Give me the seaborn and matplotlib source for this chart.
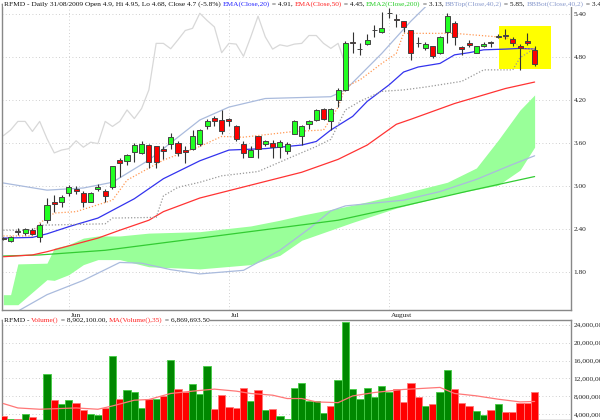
import numpy as np
import pandas as pd
import matplotlib
matplotlib.use('Agg')
import matplotlib.pyplot as plt
import seaborn as sns
from matplotlib.transforms import offset_copy, blended_transform_factory

# trading days shown (18 May - 31 Aug 2009)
dates = pd.bdate_range('2009-05-18', '2009-08-31')
dates = dates.drop(pd.to_datetime(['2009-05-25', '2009-07-03']))

opens = [2.27, 2.235, 2.37, 2.34, 2.38, 2.29, 2.52, 2.77, 2.77, 2.90,
         2.95, 2.90, 2.78, 2.96, 2.93, 2.99, 3.36, 3.35, 3.47, 3.46,
         3.57, 3.55, 3.51, 3.58, 3.60, 3.50, 3.51, 3.58, 3.84, 3.95,
         3.92, 3.93, 3.84, 3.58, 3.40, 3.70, 3.59, 3.60, 3.54, 3.48,
         3.73, 3.70, 3.87, 3.92, 4.08, 3.90, 4.20, 4.34, 5.01, 4.915,
         4.98, 5.17, 5.15, 5.41, 5.33, 5.30, 5.18, 4.99, 4.92, 4.95,
         4.86, 5.15, 5.28, 4.94, 5.00, 4.86, 4.95, 5.01, 5.08, 5.11,
         5.05, 4.96, 5.02, 4.90]
highs = [2.29, 2.30, 2.41, 2.41, 2.41, 2.48, 2.83, 2.87, 2.87, 3.01,
         3.00, 2.93, 2.91, 3.02, 2.96, 3.28, 3.39, 3.45, 3.60, 3.62,
         3.59, 3.56, 3.55, 3.74, 3.63, 3.55, 3.78, 3.80, 3.93, 3.98,
         4.06, 3.95, 3.85, 3.63, 3.56, 3.70, 3.64, 3.64, 3.64, 3.61,
         3.92, 3.85, 3.92, 4.08, 4.09, 4.09, 4.36, 5.02, 5.15, 4.99,
         5.12, 5.25, 5.43, 5.48, 5.40, 5.30, 5.18, 5.08, 5.01, 4.95,
         5.09, 5.41, 5.30, 4.95, 5.04, 4.95, 5.01, 5.03, 5.12, 5.19,
         5.08, 4.98, 5.14, 4.95]
lows = [2.24, 2.22, 2.31, 2.32, 2.31, 2.22, 2.48, 2.64, 2.70, 2.86,
        2.88, 2.71, 2.77, 2.93, 2.78, 2.96, 3.13, 3.29, 3.34, 3.44,
        3.25, 3.25, 3.38, 3.51, 3.42, 3.32, 3.50, 3.55, 3.80, 3.84,
        3.73, 3.84, 3.62, 3.39, 3.40, 3.39, 3.55, 3.39, 3.39, 3.45,
        3.72, 3.57, 3.80, 3.90, 3.92, 3.78, 4.10, 4.32, 4.85, 4.83,
        4.97, 5.08, 5.13, 5.34, 5.22, 5.15, 4.76, 4.94, 4.90, 4.79,
        4.84, 4.99, 4.97, 4.83, 4.94, 4.86, 4.94, 4.94, 5.07, 5.05,
        4.96, 4.62, 4.97, 4.68]
closes = [2.26, 2.29, 2.35, 2.40, 2.33, 2.46, 2.73, 2.75, 2.84, 2.99,
          2.93, 2.78, 2.90, 2.98, 2.86, 3.28, 3.32, 3.43, 3.57, 3.58,
          3.34, 3.34, 3.49, 3.68, 3.46, 3.47, 3.70, 3.78, 3.90, 3.90,
          3.76, 3.90, 3.66, 3.46, 3.50, 3.52, 3.63, 3.54, 3.61, 3.59,
          3.90, 3.83, 3.90, 4.06, 3.94, 4.08, 4.34, 4.99, 4.99, 4.915,
          5.04, 5.17, 5.20, 5.41, 5.31, 5.22, 4.86, 4.99, 4.98, 4.81,
          5.08, 5.37, 5.08, 4.91, 4.97, 4.95, 4.98, 4.99, 5.10, 5.10,
          4.99, 4.92, 4.99, 4.70]

# volume in millions, 'g' = up day, 'r' = down day
volume = [3.63, 3.03, 3.03, 4.15, 3.33, 2.5, 12.91, 7.15, 6.32, 7.30,
          6.55, 4.90, 4.15, 3.93, 5.42, 17.03, 7.45, 9.32, 9.02, 5.42,
          7.52, 7.52, 8.12, 16.06, 9.70, 8.87, 10.67, 8.57, 14.71, 5.27,
          8.42, 5.65, 5.42, 9.92, 7.0, 9.39, 5.05, 5.27, 3.70, 3.03,
          9.92, 11.04, 6.92, 7.0, 4.30, 5.80, 11.57, 24.52, 9.62, 7.52,
          9.77, 7.82, 10.37, 8.87, 9.62, 6.70, 11.04, 7.90, 5.80, 6.25,
          8.87, 13.89, 9.55, 6.55, 5.95, 4.83, 3.78, 5.05, 6.40, 4.60,
          4.53, 6.55, 6.62, 8.90]
vol_dir = list('rgrgrggrggrrggrgrgggrgrgrrgggrrrrrgrgrgggggggrggggggggrrrrgrggrrrggrgrrrrr')

vol_ma_pos = [0, 2, 5, 10, 13, 15, 18, 20, 23, 26, 29, 32, 34, 37, 39, 41, 43,
              46, 48, 51, 55, 60, 62, 65, 68, 71, 73]
vol_ma = [6.4, 5.42, 5.13, 5.42, 5.13, 5.87, 7.15, 7.30, 8.65, 9.17, 9.62, 9.17,
          8.65, 8.27, 7.52, 7.52, 6.77, 6.6, 8.1, 8.87, 9.55, 10.0, 8.65, 8.12,
          7.37, 6.77, 6.87]

ema20_pos = [0, 4, 6, 9, 13, 18, 22, 27, 31, 36, 41, 43, 45, 48, 50, 53, 55,
             57, 60, 62, 64, 66, 69, 71, 73]
ema20 = [2.27, 2.28, 2.33, 2.43, 2.55, 2.82, 3.10, 3.35, 3.50, 3.52, 3.57, 3.62,
         3.78, 3.97, 4.18, 4.41, 4.59, 4.66, 4.71, 4.83, 4.86, 4.90, 4.91, 4.92, 4.91]

ema50_pos = [0, 4, 6, 13, 16, 20, 22, 27, 34, 41, 46, 50, 54, 56, 62, 69, 73]
ema50 = [2.01, 2.035, 2.08, 2.27, 2.38, 2.52, 2.64, 2.83, 3.01, 3.19, 3.37, 3.57,
         3.86, 3.93, 4.15, 4.36, 4.45]

ema200_pos = [0, 5, 14, 27, 46, 55, 64, 73]
ema200 = [2.02, 2.035, 2.10, 2.27, 2.52, 2.72, 2.93, 3.13]

bbtop_pos = [0, 6, 11, 15, 20, 27, 31, 36, 45, 47, 52, 56, 59, 73]
bbtop = [3.04, 2.94, 2.97, 3.05, 3.36, 3.92, 4.10, 4.22, 4.245, 4.34, 4.85, 5.30,
         5.60, 5.85]

bbbot_pos = [0, 2, 6, 11, 16, 19, 23, 27, 33, 38, 42, 45, 47, 50, 55, 60, 65, 70, 73]
bbbot = [1.10, 1.25, 1.48, 1.68, 1.93, 1.92, 1.83, 1.77, 1.82, 2.10, 2.40, 2.65,
         2.72, 2.75, 2.80, 2.92, 3.09, 3.30, 3.42]

tenkan_pos = [0, 4, 5, 7, 10, 15, 17, 22, 27, 30, 33, 40, 44, 46, 47, 49, 52,
              54, 55, 62, 68, 70, 71, 73]
tenkan = [2.30, 2.30, 2.48, 2.62, 2.64, 2.80, 3.08, 3.36, 3.55, 3.69, 3.68, 3.76,
          3.78, 4.10, 4.38, 4.48, 4.71, 4.85, 5.13, 5.13, 5.08, 5.05, 4.91, 4.91]

kijun_pos = [0, 4, 5, 14, 15, 21, 22, 24, 27, 30, 35, 40, 43, 45, 47, 49, 52,
             55, 58, 63, 66, 70, 71, 73]
kijun = [2.38, 2.38, 2.45, 2.47, 2.55, 2.56, 2.86, 2.98, 3.05, 3.14, 3.20, 3.42,
         3.55, 3.65, 4.06, 4.18, 4.32, 4.34, 4.38, 4.46, 4.62, 4.62, 4.79, 4.92]

cloud_pos = [0, 1, 2, 6, 7, 9, 11, 13, 16, 20, 27, 34, 38, 41, 48, 54, 61, 65, 68, 71, 73]
cloud_top = [1.48, 1.48, 1.91, 1.92, 2.13, 2.18, 2.27, 2.30, 2.30, 2.34, 2.36, 2.44,
             2.52, 2.59, 2.73, 2.87, 3.05, 3.25, 3.64, 4.06, 4.27]
cloud_bot = [1.34, 1.34, 1.34, 1.69, 1.68, 1.76, 1.90, 1.97, 1.97, 1.87, 1.84, 1.90,
             2.03, 2.24, 2.49, 2.69, 2.87, 2.95, 3.01, 3.22, 3.54]

lag = 26  # lagging close line
highlight = dict(start=68.1, end=75.2, low=4.628, high=5.232)

price_ticks = [1.80, 2.40, 3.00, 3.60, 4.20, 4.80, 5.40]
vol_ticks = [4, 8, 12, 16, 20, 24]

sns.set_style('white')
plt.rcParams['font.family'] = ['Liberation Serif', 'DejaVu Serif']
FS = 5.3

n = len(closes)
idx = np.arange(n)
o, h, l, c = map(np.array, (opens, highs, lows, closes))

fig = plt.figure(figsize=(6, 4.2), dpi=100)
ax = fig.add_axes([2 / 600, 1 - 310 / 420, 569 / 600, 306 / 420])
axv = fig.add_axes([2 / 600, 0, 569 / 600, 100 / 420])

# ---- price panel ----
ax.fill_between(cloud_pos, cloud_top, cloud_bot, color='#99ff99', lw=0, zorder=1)
ax.fill_between([highlight['start'], highlight['end']], highlight['low'], highlight['high'],
                color='#ffff00', lw=0, zorder=1.2)

sns.lineplot(x=idx[:n - lag], y=c[lag:], ax=ax, color='#d8d8d8', lw=0.9, zorder=2)
sns.lineplot(x=bbtop_pos, y=bbtop, ax=ax, color='#aabbdd', lw=0.9, zorder=2)
sns.lineplot(x=bbbot_pos, y=bbbot, ax=ax, color='#aabbdd', lw=0.9, zorder=2)
sns.lineplot(x=ema200_pos, y=ema200, ax=ax, color='#33cc33', lw=0.9, zorder=2)
sns.lineplot(x=ema50_pos, y=ema50, ax=ax, color='#ff3333', lw=0.9, zorder=2)
sns.lineplot(x=ema20_pos, y=ema20, ax=ax, color='#3333ee', lw=0.9, zorder=2)
sns.lineplot(x=kijun_pos, y=kijun, ax=ax, color='#999999', lw=0.9, linestyle=(0, (1, 1.5)), zorder=2)
sns.lineplot(x=tenkan_pos, y=tenkan, ax=ax, color='#ff9955', lw=0.9, linestyle=(0, (1, 1.5)), zorder=2)

up = c >= o
ax.vlines(idx, l, h, color='#333333', lw=0.8, zorder=3)
ax.bar(idx, np.abs(c - o), bottom=np.minimum(o, c), width=0.7,
       color=np.where(up, '#22ff22', '#ff0000'), edgecolor='#444444', lw=0.7, zorder=4)

ax.set_xlim(-0.18, 78.0)
ax.set_ylim(1.266, 5.54)
ax.yaxis.tick_right()
ax.set_yticks(price_ticks)
ax.set_yticklabels([f'{t:.2f}' for t in price_ticks])
month_start = [i for i in range(1, n) if dates[i].month != dates[i - 1].month]
month_names = ['Jun', 'Jul', 'August']
ax.set_xticks(month_start)
ax.set_xticklabels([])
ax.tick_params(axis='y', length=0, pad=2, labelsize=FS, colors='#222222')
ax.tick_params(axis='x', direction='out', length=8, width=0.8, color='#888888')
ax.grid(True, color='#c0c0c0', linestyle=(0, (1, 3)), lw=0.6)
trx = blended_transform_factory(ax.transData, ax.transAxes)
for p, name in zip(month_start, month_names):
    ax.text(p + 0.25, -0.01, name, transform=trx, ha='left', va='top', fontsize=FS, color='#222222')

# ---- volume panel ----
vcol = ['#008800' if d == 'g' else '#ff0000' for d in vol_dir]
vedge = ['#44cc44' if d == 'g' else '#ff7777' for d in vol_dir]
axv.bar(idx, volume, width=1.0, color=vcol, edgecolor=vedge, lw=0.6, zorder=3)
sns.lineplot(x=vol_ma_pos, y=vol_ma, ax=axv, color='#ff7777', lw=0.9, zorder=4)
axv.set_xlim(-0.18, 78.0)
axv.set_ylim(2.73, 25.05)
axv.yaxis.tick_right()
axv.set_yticks(vol_ticks)
axv.set_yticklabels([f'{t * 1_000_000:,}' for t in vol_ticks])
axv.set_xticks([])
axv.tick_params(axis='y', length=0, pad=2, labelsize=FS, colors='#222222')
axv.grid(True, axis='y', color='#c0c0c0', linestyle=(0, (1, 3)), lw=0.6)

for a in (ax, axv):
    for s in a.spines.values():
        s.set_color('#888888')
        s.set_linewidth(1)
    a.set_xlabel('')
    a.set_ylabel('')


def colour_text(a, parts):
    fig.canvas.draw()
    r = fig.canvas.get_renderer()
    t = a.transAxes
    for s, col in parts:
        txt = a.text(0.0035, 1.0, s, color=col, transform=t, ha='left', va='center',
                     fontsize=FS, clip_on=False, zorder=10,
                     bbox=dict(fc='white', ec='none', pad=0.4))
        w = txt.get_window_extent(renderer=r).width
        t = offset_copy(txt.get_transform(), x=w, units='dots')


colour_text(ax, [
    ('RFMD - Daily 31/08/2009 Open 4.9, Hi 4.95, Lo 4.68, Close 4.7 (-5.8%) ', '#111111'),
    ('EMA(Close,20)', '#2222ff'), (' = 4.91, ', '#111111'),
    ('EMA(Close,50)', '#ff2222'), (' = 4.45, ', '#111111'),
    ('EMA2(Close,200)', '#22cc22'), (' = 3.13, ', '#111111'),
    ('BBTop(Close,40,2)', '#8899cc'), (' = 5.85, ', '#111111'),
    ('BBBot(Close,40,2)', '#8899cc'), (' = 3.42, ', '#111111'),
    ('Close(Close,26)', '#111111'),
])
colour_text(axv, [
    ('RFMD - ', '#111111'), ('Volume()', '#ff2222'), (' = 8,902,100.00, ', '#111111'),
    ('MA(Volume(),35)', '#ff2222'), (' = 6,869,693.50', '#111111'),
])

fig.savefig('out.png', dpi=100)
